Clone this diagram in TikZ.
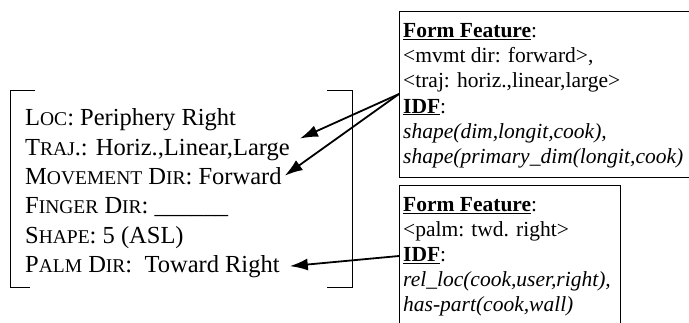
\documentclass[tikz,border=0pt]{standalone}
\usepackage{fontspec}
\setmainfont{Liberation Serif}
\usetikzlibrary{arrows.meta}

\newcommand{\smc}[1]{{\fontsize{19.5}{19.5}\selectfont #1}}
\newcommand{\ulb}[1]{\underline{\textbf{#1}}}

\tikzset{
  attr/.style={anchor=base west, inner sep=0pt, font=\fontsize{24.5}{24.5}\selectfont},
  feat/.style={anchor=north west, align=left, inner xsep=4pt, inner ysep=0pt,
    font=\fontsize{21.5}{25.1}\selectfont},
  link/.style={line width=1.8pt, -{Latex[length=18pt,width=12pt]}}
}

\begin{document}
\begin{tikzpicture}[x=1pt,y=-1pt]
	\useasboundingbox (0,0) rectangle (689,322);

	% bracket round the attribute list
	\draw (35,90) -- (10,90) -- (10,287) -- (30,287);
	\draw (327,90) -- (352,90) -- (352,287) -- (327,287);

	\node[attr] (loc) at (25,125) {L\smc{OC}: Periphery Right};
	\node[attr] (traj) at (25,155) {T\smc{RAJ}.: Horiz.,Linear,Large};
	\node[attr] (mvmt) at (25,184) {M\smc{OVEMENT} D\smc{IR}: Forward};
	\node[attr] (finger) at (25,213) {F\smc{INGER} D\smc{IR}: \_\_\_\_\_\_};
	\node[attr] (shape) at (25,243) {S\smc{HAPE}: 5 (ASL)};
	\node[attr] (palm) at (25,272) {P\smc{ALM} D\smc{IR}:~ Toward Right};

	% feature boxes
	\draw (399,11) rectangle (720,177);
	\node[feat] (featA) at (399,23.5) {\ulb{Form Feature}:\\
		<mvmt dir: forward>,\\
		<traj: horiz.,linear,large>\\
		\ulb{IDF}:\\
		\textit{shape(dim,longit,cook),}\\
		\textit{shape(primary\_dim(longit,cook)}};

	\draw (399,185) rectangle (620,340);
	\node[feat] (featB) at (399,197) {\ulb{Form Feature}:\\
		<palm: twd. right>\\
		\ulb{IDF}:\\
		\textit{rel\_loc(cook,user,right),}\\
		\textit{has-part(cook,wall)}};

	\coordinate (srcA) at (399,94);
	\coordinate (srcB) at (399,256);

	\draw[link] (srcA) -- ([xshift=10pt]traj.north east);
	\draw[link] (srcA) -- ([xshift=3pt]mvmt.east);
	\draw[link] (srcB) -- ([xshift=10pt]palm.east);
\end{tikzpicture}
\end{document}
